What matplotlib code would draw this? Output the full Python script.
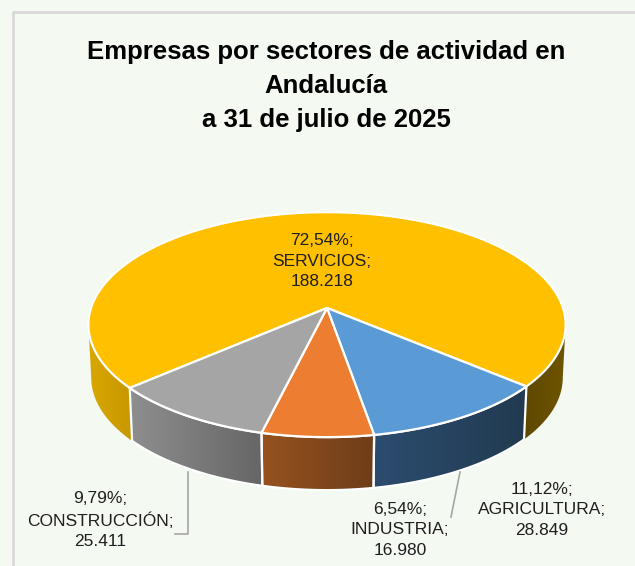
import numpy as np
import matplotlib
matplotlib.use('Agg')
import matplotlib.pyplot as plt
from matplotlib.patches import Polygon
from matplotlib.colors import LinearSegmentedColormap

# datos
sectores = ['SERVICIOS', 'AGRICULTURA', 'INDUSTRIA', 'CONSTRUCCIÓN']
empresas = [188218, 28849, 16980, 25411]
titulo = 'Empresas por sectores de actividad en\nAndalucía\na 31 de julio de 2025'

colores = ['#FFC000', '#5B9BD5', '#ED7D31', '#A5A5A5']
lados = {'SERVICIOS': [('#D9A700', '#C79800'), ('#5E4800', '#6E5500')],
         'AGRICULTURA': [('#2C4C6F', '#213A50')],
         'INDUSTRIA': [('#96521F', '#6E3D18')],
         'CONSTRUCCIÓN': [('#8E8E8E', '#666666')]}
etiquetas_pos = [(322, 261), (542, 510), (400, 530), (100, 520)]

plt.rcParams['font.family'] = ['Liberation Sans', 'DejaVu Sans']

cx, cy = 327, 308
a, b, k = 236, 110, 0.148
fondo = 53
inicio = -139
borde = np.degrees(np.arcsin(k))  # angulo donde la elipse es mas ancha


def proyecta(ang, z=0):
    u = np.cos(np.radians(ang))
    v = np.sin(np.radians(ang))
    d = 1 + k * v
    esc = 1 - 0.012 * z
    return cx + a * u / d * esc, cy - b * v / d + z * fondo


def lado(ax, a1, a2, c1, c2, linea='white'):
    # cara lateral entre dos angulos (a1 > a2, sentido horario)
    ang = np.linspace(a1, a2, 80)
    x, y = proyecta(ang)
    x2, y2 = proyecta(ang, 1)
    pts = np.r_[np.c_[x, y], np.c_[x2, y2][::-1]]
    ax.add_patch(Polygon(pts, closed=True, fc='none', ec=linea, lw=1.6, zorder=3))
    cmap = LinearSegmentedColormap.from_list('g', [c1, c2])
    im = ax.imshow(np.linspace(0, 1, 64).reshape(1, -1), cmap=cmap, aspect='auto',
                   extent=(pts[:, 0].min(), pts[:, 0].max(), pts[:, 1].max(), pts[:, 1].min()),
                   zorder=2)
    im.set_clip_path(Polygon(pts, closed=True, transform=ax.transData))


fig = plt.figure(figsize=(6.35, 5.66), dpi=100, facecolor='#F4F9F2')
ax = fig.add_axes([0, 0, 1, 1])
ax.set_xlim(0, 635)
ax.set_ylim(566, 0)
ax.axis('off')

# marco
ax.plot([13, 13, 640], [570, 12, 12], color='#D9D9D9', lw=2, zorder=1)

ax.text(326, 86, titulo, ha='center', va='center', fontsize=18.5, fontweight='bold',
        color='black', linespacing=1.5)

total = sum(empresas)
grados = [v / total * 360 for v in empresas]

# caras laterales visibles
ang = inicio
for nombre, g in zip(sectores, grados):
    fin = ang - g
    if nombre == 'SERVICIOS':
        lado(ax, ang, -180 + borde, *lados[nombre][0], linea='none')
        lado(ax, fin + 360, -borde, *lados[nombre][1], linea='none')
    else:
        lado(ax, ang, fin, *lados[nombre][0])
    ang = fin

# cara superior
ang = inicio
for nombre, g, col in zip(sectores, grados, colores):
    th = np.linspace(ang, ang - g, 200)
    x, y = proyecta(th)
    pts = np.r_[[[cx, cy]], np.c_[x, y]]
    ax.add_patch(Polygon(pts, closed=True, fc=col, ec='white', lw=1.6, zorder=4, joinstyle='round'))
    ang -= g

# lineas guia
ax.plot([188, 188, 175], [472, 534, 534], color='#A6A6A6', lw=1.2, zorder=5)
ax.plot([460, 451], [472, 517], color='#A6A6A6', lw=1.2, zorder=5)

# etiquetas
for nombre, v, (tx, ty) in zip(sectores, empresas, etiquetas_pos):
    pct = f'{v / total * 100:.2f}'.replace('.', ',')
    num = f'{v:,}'.replace(',', '.')
    ax.text(tx, ty, f'{pct}%;\n{nombre};\n{num}', ha='center', va='center', fontsize=12.5,
            color='#1F1F1F', linespacing=1.45, zorder=6)

fig.savefig('out.png', dpi=100, facecolor=fig.get_facecolor())
